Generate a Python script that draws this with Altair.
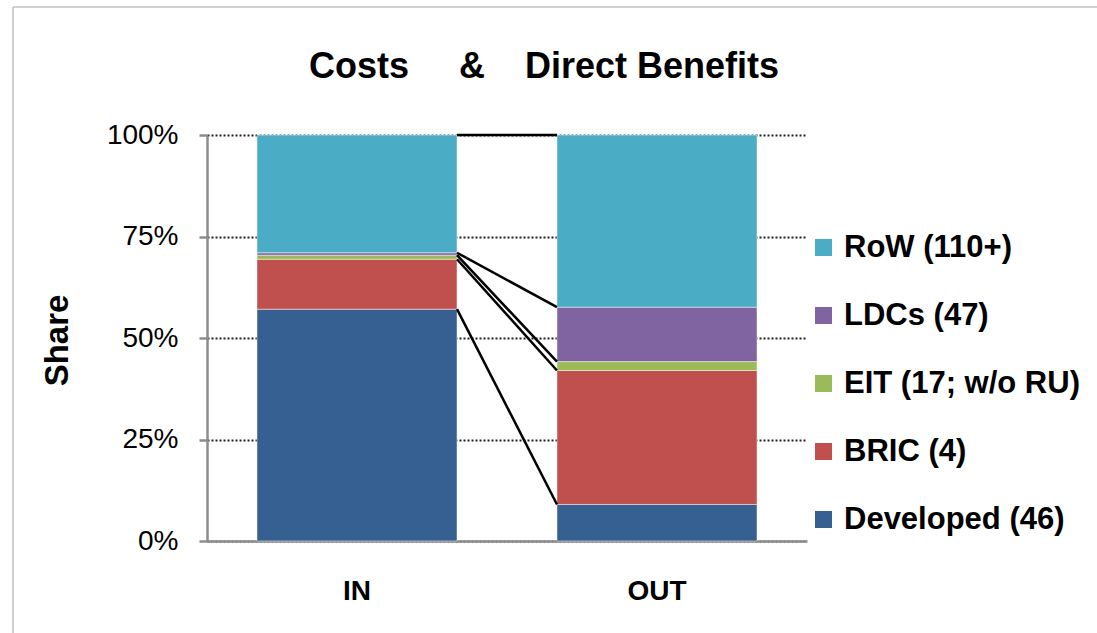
import altair as alt
import pandas as pd

# Country groups, bottom of the stack first
series = ["Developed (46)", "BRIC (4)", "EIT (17; w/o RU)", "LDCs (47)", "RoW (110+)"]
colors = ["#376092", "#C0504D", "#9BBB59", "#8064A2", "#4BACC6"]
stages = ["IN", "OUT"]

# Share of costs (IN) and of direct benefits (OUT), in percent
in_share = [57.1, 12.3, 1.0, 0.6, 29.0]
out_share = [9.0, 33.0, 2.2, 13.4, 42.4]

title_text = "Costs\u00a0\u00a0\u00a0\u00a0\u00a0&\u00a0\u00a0\u00a0\u00a0Direct Benefits"
FONT = "Liberation Sans"

rows = []
for rank, name in enumerate(series):
    rows.append({"stage": stages[0], "series": name, "share": in_share[rank], "rank": rank})
    rows.append({"stage": stages[1], "series": name, "share": out_share[rank], "rank": rank})
bars_df = pd.DataFrame(rows)

# Connector lines join the top of each group in IN to the top of the same group in OUT
links = []
cum_in = cum_out = 0.0
for name, a, b in zip(series, in_share, out_share):
    cum_in += a
    cum_out += b
    links.append({"src": stages[0], "dst": stages[1], "y_in": cum_in, "y_out": cum_out})
links_df = pd.DataFrame(links)

x_scale = alt.Scale(domain=stages, paddingInner=1 / 3, paddingOuter=1 / 6)
y_scale = alt.Scale(domain=[0, 100], nice=False)

legend_order = list(reversed(series))
color_scale = alt.Scale(domain=legend_order, range=list(reversed(colors)))

bars = alt.Chart(bars_df).mark_bar(
    stroke="#ffffff", strokeWidth=1, strokeOpacity=0.45
).encode(
    x=alt.X("stage:N", scale=x_scale, sort=stages,
            axis=alt.Axis(title=None, labelAngle=0, ticks=False,
                          labelFontSize=28, labelFontWeight="bold",
                          labelFont=FONT, labelColor="#000000",
                          labelPadding=36, domainColor="#8c8c8c",
                          domainWidth=2.5, grid=False)),
    y=alt.Y("share:Q", stack="zero", scale=y_scale,
            axis=alt.Axis(title="Share", values=[0, 25, 50, 75, 100],
                          labelExpr="datum.value + '%'",
                          labelFontSize=28, labelFont=FONT, labelColor="#000000",
                          labelPadding=21, tickSize=8, tickColor="#8c8c8c",
                          tickWidth=2.5, domainColor="#8c8c8c", domainWidth=2.5,
                          grid=True, gridDash=[2, 2], gridColor="#1e1e1e",
                          gridWidth=2, titleFontSize=33, titleFont=FONT,
                          titleFontWeight="bold", titleColor="#000000",
                          titleAngle=-90, titleBaseline="bottom",
                          titleX=-133, titleY=205)),
    color=alt.Color("series:N", scale=color_scale,
                    legend=alt.Legend(title=None, orient="none", legendX=601,
                                      legendY=97, padding=0,
                                      symbolType="square", symbolSize=289,
                                      symbolStrokeWidth=0, labelFontSize=31,
                                      labelFont=FONT, labelFontWeight="bold",
                                      labelColor="#000000", labelOffset=5,
                                      rowPadding=36, labelLimit=400)),
    order=alt.Order("rank:Q", sort="ascending"),
)

connectors = alt.Chart(links_df).mark_rule(color="#000000", strokeWidth=2.5).encode(
    x=alt.X("src:N", bandPosition=1, scale=x_scale),
    x2=alt.X2("dst:N", bandPosition=0),
    y=alt.Y("y_in:Q", scale=y_scale),
    y2="y_out:Q",
)

title = alt.Chart(pd.DataFrame({"t": [title_text]})).mark_text(
    font=FONT, fontSize=36, fontWeight="bold", color="#000000",
    align="center", baseline="alphabetic"
).encode(text="t:N", x=alt.value(337), y=alt.value(-57))

frame_df = pd.DataFrame({"k": [0]})
frame_left = alt.Chart(frame_df).mark_rule(color="#c0c0c0", strokeWidth=1.5).encode(
    x=alt.value(-194), y=alt.value(-128), y2=alt.value(498))
frame_top = alt.Chart(frame_df).mark_rule(color="#c0c0c0", strokeWidth=1.5).encode(
    y=alt.value(-128), x=alt.value(-194), x2=alt.value(890))

chart = alt.layer(bars, connectors, title, frame_left, frame_top).properties(
    width=600, height=406,
    autosize=alt.AutoSizeParams(type="none"),
    padding={"left": 207, "top": 135, "right": 290, "bottom": 92},
    background="#ffffff",
).configure_view(stroke=None)

chart.save("out.html", embed_options={"renderer": "svg", "actions": False})
